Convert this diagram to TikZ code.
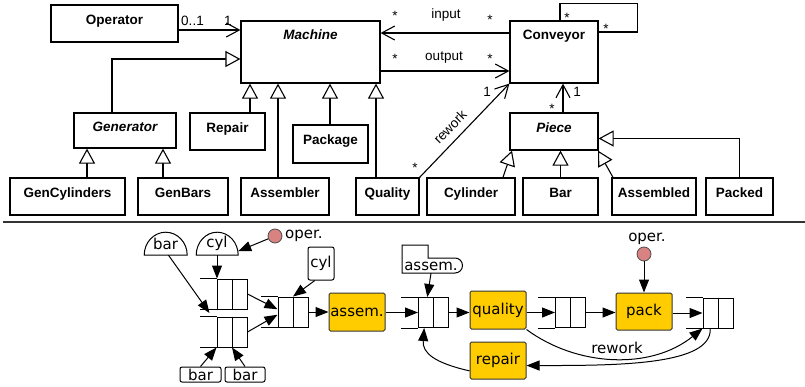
\documentclass[tikz,border=0pt]{standalone}
\usepackage{fontspec}
\setmainfont{Liberation Sans}
\newfontfamily\dejavu{DejaVu Sans}
\usetikzlibrary{arrows.meta,calc}
\definecolor{petriyellow}{HTML}{FFCC00}
\definecolor{tokenred}{HTML}{D98282}

\tikzset{
  % class diagram
  cls/.style={draw, line width=1.2pt, inner sep=0pt,
    font=\fontsize{13.5}{16}\selectfont\bfseries, text height=9.7pt, text depth=8pt},
  abstractcls/.style={cls, font=\fontsize{13.5}{16}\selectfont\bfseries\itshape},
  mult/.style={font=\fontsize{13.5}{16}\selectfont, inner sep=0pt},
  assoc/.style={line width=1.1pt, -{Straight Barb[length=13pt,width=14pt,line width=1.1pt]}},
  genz/.style={line width=1.1pt, -{Triangle[open,fill=white,length=15pt,width=16pt,line width=1.1pt]}},
  % flow net
  pn/.style={font=\dejavu\fontsize{15}{18}\selectfont},
  flow/.style={line width=1pt, -{Triangle[length=13pt,width=10pt]}},
  qcell/.style={draw, line width=1pt, fill=white, minimum width=30pt, minimum height=30pt, inner sep=0pt},
  trans/.style={draw=black!80, line width=1pt, fill=petriyellow, rounded corners=1.5pt,
    minimum width=56pt, minimum height=38pt, inner sep=0pt, pn},
  tagbox/.style={draw, line width=1pt, rounded corners=2pt, inner sep=0pt, pn},
  token/.style={circle, draw=black!70, fill=tokenred, minimum size=14pt, inner sep=0pt, line width=0.8pt},
}

% a buffer: two cells with the rails running out to the left
\newcommand\queuenode[3]{%
  \node[qcell] (#1) at (#2,#3) {};
  \draw[line width=1pt] (#1.north west) -- ++(-17,0) (#1.south west) -- ++(-17,0) (#1.north) -- (#1.south);}

\begin{document}
\begin{tikzpicture}[x=1pt,y=-1pt]
\useasboundingbox (0,0) rectangle (805,386);

% ---------------- class diagram ----------------
\node[cls, minimum width=127pt, minimum height=37pt] (operator) at (114.5,23.5) {Operator};
\node[abstractcls, text depth=34pt, minimum width=139pt, minimum height=62pt] (machine) at (310.5,52) {Machine};
\node[cls, text depth=34pt, minimum width=88pt, minimum height=62pt] (conveyor) at (554,52) {Conveyor};
\node[abstractcls, minimum width=102pt, minimum height=35pt] (generator) at (125,130.5) {Generator};
\node[cls, minimum width=75pt, minimum height=37pt] (repair) at (227.5,131.5) {Repair};
\node[cls, minimum width=75pt, minimum height=38pt] (package) at (330.5,144) {Package};
\node[abstractcls, minimum width=88pt, minimum height=37pt] (piece) at (554,131.5) {Piece};
\node[cls, minimum width=115pt, minimum height=37pt] (gencyl) at (67.5,196.5) {GenCylinders};
\node[cls, minimum width=90pt, minimum height=37pt] (genbars) at (183,196.5) {GenBars};
\node[cls, minimum width=88pt, minimum height=37pt] (assembler) at (285,196.5) {Assembler};
\node[cls, minimum width=63pt, minimum height=37pt] (quality) at (387.5,196.5) {Quality};
\node[cls, minimum width=88pt, minimum height=37pt] (cylinder) at (471,196.5) {Cylinder};
\node[cls, minimum width=75pt, minimum height=37pt] (bar) at (560.5,196.5) {Bar};
\node[cls, minimum width=84pt, minimum height=37pt] (assembled) at (654,196.5) {Assembled};
\node[cls, minimum width=67pt, minimum height=37pt] (packed) at (739.5,196.5) {Packed};

% associations
\coordinate (opr) at ([yshift=-6.5pt]operator.east);
\draw[assoc] (opr) -- (opr -| machine.west);
\coordinate (inp) at ([yshift=19pt]conveyor.west);
\draw[assoc] (inp) -- (inp -| machine.east);
\coordinate (outp) at ([yshift=-19pt]machine.east);
\draw[assoc] (outp) -- (outp -| conveyor.west);
\coordinate (lp) at ([xshift=6pt]conveyor.north);
\coordinate (lq) at ([yshift=20pt]conveyor.east);
\draw[line width=1.1pt] (lp) -- ++(0,-17) -| ($(lq)+(39,0)$) -- (lq);
\coordinate (pc) at ([xshift=9pt]piece.north);
\draw[assoc] (pc) -- (pc |- conveyor.south);
\draw[assoc] (quality.north east) -- (conveyor.south west);

% generalisations
\draw[genz] ([xshift=-13pt]generator.north) |- ([yshift=-7pt]machine.west);
\coordinate (m1) at ([xshift=-60.5pt]machine.south);
\coordinate (m2) at ([xshift=-32.5pt]machine.south);
\coordinate (m3) at ([xshift=19.5pt]machine.south);
\coordinate (m4) at ([xshift=65.5pt]machine.south);
\draw[genz] (m1 |- repair.north) -- (m1);
\draw[genz] (m2 |- assembler.north) -- (m2);
\draw[genz] (m3 |- package.north) -- (m3);
\draw[genz] (m4 |- quality.north) -- (m4);
\coordinate (g1) at ([xshift=-38pt]generator.south);
\coordinate (g2) at ([xshift=38pt]generator.south);
\draw[genz] (g1 |- gencyl.north) -- (g1);
\draw[genz] (g2 |- genbars.north) -- (g2);
\draw[genz] ([xshift=32pt]cylinder.north) -- ([xshift=-42pt]piece.south);
\draw[genz] (bar.north) -- (bar.north |- piece.south);
\draw[genz] ([xshift=-41pt]assembled.north) -- ([xshift=44pt]piece.south);
\draw[genz] (packed.north) |- ([yshift=-7pt]piece.east);

% multiplicities and role names
\node[mult] (m01) at (192.5,21) {0..1};
\node[mult] (m1a) at (228,21) {1};
\node[mult] (sIn1) at (395,16) {*};
\node[mult] (lIn) at (446,15) {input};
\node[mult] (sIn2) at (490,20) {*};
\node[mult] (sOut1) at (395,59) {*};
\node[mult] (lOut) at (444,58) {output};
\node[mult] (sOut2) at (490,59) {*};
\node[mult] (sLoop1) at (567,18) {*};
\node[mult] (sLoop2) at (606,29) {*};
\node[mult] (oneRw) at (487,92) {1};
\node[mult] (onePc) at (577,92) {1};
\node[mult] (sPc) at (552,109) {*};
\node[mult] (sRw) at (415,168) {*};
\node[mult, rotate=46] (lRw) at (450,127) {rework};

% separator
\draw[line width=1.8pt, black!80] (3,222) -- (805,222);

% ---------------- flow net ----------------
\node[pn, minimum width=43pt, minimum height=23pt, inner sep=0pt] (barD) at (165.5,243.5) {bar};
\node[pn, minimum width=42pt, minimum height=23pt, inner sep=0pt] (cylD) at (217,243.5) {cyl};
\draw[line width=1pt] (barD.south west) -- (barD.south east)
  arc[start angle=0, end angle=180, x radius=21.5pt, y radius=23pt] -- cycle;
\draw[line width=1pt] (cylD.south west) -- (cylD.south east)
  arc[start angle=0, end angle=180, x radius=21pt, y radius=23pt] -- cycle;

\node[token] (op1) at (275,236) {};
\node[pn, anchor=west, inner sep=0pt] (op1l) at (285,235.5) {oper.};
\node[token] (op2) at (644,254) {};
\node[pn, inner sep=0pt] (op2l) at (647,239) {oper.};

\queuenode{Q1}{232}{294}
\queuenode{Q2}{232}{332}
\queuenode{Q3}{293}{312}
\queuenode{Q4}{433.5}{312.5}
\queuenode{Q5}{570.5}{312.5}
\queuenode{Q6}{718}{313}

\node[tagbox, minimum width=41pt, minimum height=15pt] (bar1) at (200.5,374.5) {bar};
\node[tagbox, minimum width=40pt, minimum height=15pt] (bar2) at (245,374.5) {bar};
\node[tagbox, minimum width=26pt, minimum height=33pt] (cylB) at (321,263.5) {cyl};

\draw[line width=1pt] (402,273) -- (402,245) -- (428,245) -- (428,258) -- (455,258)
  arc[start angle=90, end angle=-90, radius=7.5pt] -- cycle;
\node[pn, inner sep=0pt, minimum height=14pt] (atag) at (431,266) {assem.};

\node[trans] (tAssem) at (357,312) {assem.};
\node[trans] (tQual) at (498,310) {quality};
\node[trans, minimum height=37pt] (tPack) at (644,311.5) {pack};
\node[trans, minimum height=37pt] (tRepair) at (498,360.5) {repair};

\draw[flow] (op1) -- (cylD.-20);
\draw[flow] (cylD.south) -- (cylD.south |- Q1.north);
\coordinate (qmid) at ($(Q1.south west)!0.5!(Q2.north west)+(-7,0)$);
\draw[flow] ([xshift=3pt]barD.south) -- (qmid);
\draw[flow] (bar1.north) -- (Q2.south west);
\draw[flow] (bar2.north) -- (Q2.south);
\draw[flow] (Q1.east) -- (Q3.170);
\draw[flow] (Q2.east) -- (Q3.190);
\draw[flow] (cylB.250) -- (Q3.north);
\draw[flow] (Q3.east) -- (Q3.east -| tAssem.west);
\draw[flow] (tAssem.east |- Q4.west) -- (Q4.west);
\draw[flow] (atag.south) -- ($(Q4.north west)!0.3!(Q4.north east)$);
\draw[flow] (Q4.east) -- (Q4.east -| tQual.west);
\draw[flow] (Q5.west -| tQual.east) -- (Q5.west);
\draw[flow] (Q5.east) -- (Q5.east -| tPack.west);
\draw[flow] (op2) -- (tPack.north);
\draw[flow] (Q6.west -| tPack.east) -- (Q6.west);

\draw[flow] (tQual.south east) .. controls +(50,37) and +(-52,42) .. (Q6.south west);
\node[pn, inner sep=0pt] (rwl) at (617,348) {rework};

\coordinate (q6b) at ($(Q6.south west)!0.25!(Q6.south east)$);
\draw[flow] (q6b) .. controls +(2,37) and +(90,0) .. (tRepair.-10);
\coordinate (q4b) at ($(Q4.south west)!0.2!(Q4.south east)$);
\draw[flow] (tRepair.200) .. controls +(-35,-8) and +(-2,25) .. (q4b);
\end{tikzpicture}
\end{document}
